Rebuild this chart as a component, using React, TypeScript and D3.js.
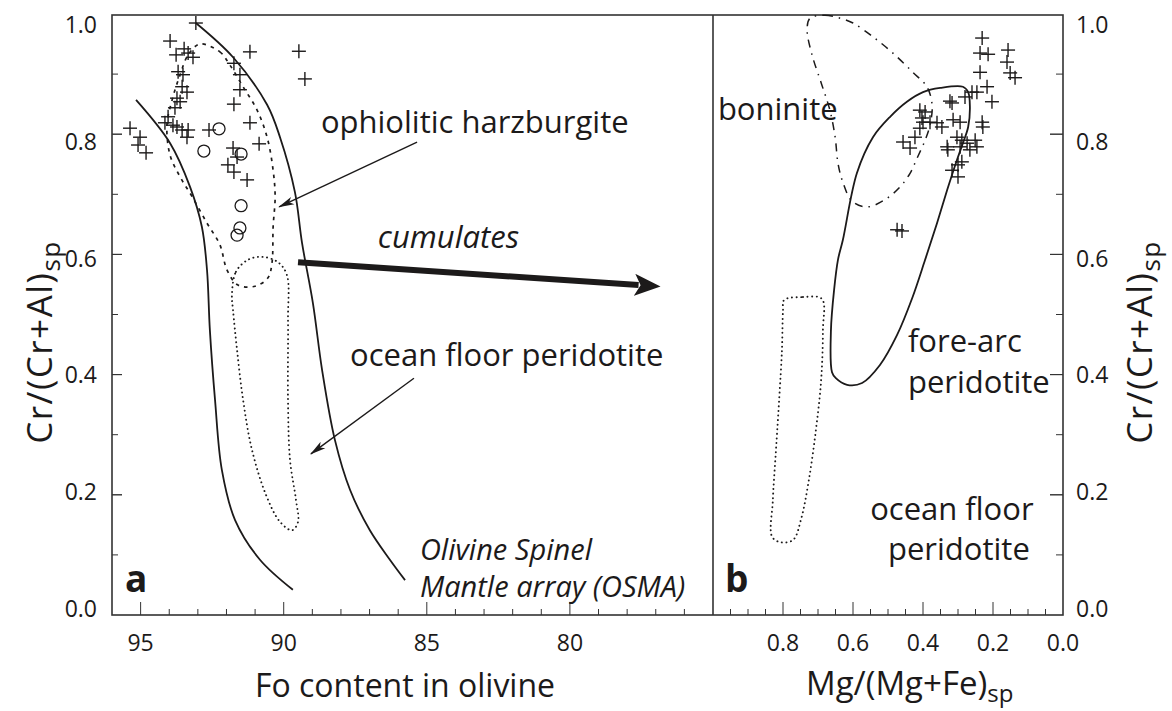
import React from "react";
import * as d3 from "d3";

// ---------- DATA ----------
// Panel a: Fo content in olivine vs Cr/(Cr+Al) spinel
const aCrosses: [number, number][] = [
  [93.07, 0.985], [93.97, 0.955], [93.48, 0.942], [93.76, 0.932], [93.34, 0.935],
  [93.17, 0.928], [91.18, 0.937], [89.47, 0.938], [89.26, 0.892], [91.74, 0.918],
  [91.53, 0.899], [91.53, 0.874], [91.74, 0.85], [93.69, 0.904], [93.52, 0.899],
  [93.55, 0.879], [93.38, 0.87], [93.73, 0.86], [93.62, 0.854], [93.8, 0.844],
  [94.04, 0.829], [94.15, 0.819], [93.87, 0.815], [93.73, 0.812], [93.55, 0.807],
  [93.34, 0.807], [93.38, 0.795], [95.37, 0.81], [95.02, 0.795], [95.09, 0.782],
  [94.81, 0.769], [92.61, 0.807], [91.18, 0.819], [90.86, 0.784], [91.77, 0.777],
  [91.63, 0.762], [91.95, 0.749], [91.74, 0.737], [91.28, 0.724],
];
const aCircles: [number, number][] = [
  [92.26, 0.809], [92.79, 0.772], [91.49, 0.767], [91.49, 0.681], [91.53, 0.644], [91.63, 0.632],
];
const osmaRight: [number, number][] = [
  [93.07, 0.985], [91.77, 0.928], [90.58, 0.849], [90.13, 0.795], [89.61, 0.704],
  [89.36, 0.619], [88.98, 0.519], [88.66, 0.408], [88.21, 0.291], [87.68, 0.208],
  [86.99, 0.141], [86.29, 0.092], [85.76, 0.058],
];
const osmaLeft: [number, number][] = [
  [95.16, 0.857], [93.97, 0.785], [93.27, 0.712], [92.86, 0.646], [92.68, 0.574],
  [92.58, 0.474], [92.4, 0.358], [92.16, 0.241], [91.7, 0.158], [90.83, 0.092], [89.68, 0.042],
];
const harzField: [number, number][] = [
  [92.93, 0.95], [92.23, 0.937], [91.88, 0.915], [91.42, 0.879], [90.93, 0.84],
  [90.58, 0.795], [90.37, 0.74], [90.3, 0.696], [90.37, 0.646], [90.41, 0.586],
  [90.55, 0.561], [91.0, 0.547], [91.6, 0.549], [91.98, 0.574], [92.23, 0.616],
  [92.68, 0.652], [93.2, 0.696], [93.62, 0.729], [93.97, 0.765], [94.08, 0.815],
  [93.9, 0.857], [93.62, 0.899], [93.34, 0.932],
];
const oceanFieldA: [number, number][] = [
  [91.81, 0.532], [91.67, 0.571], [91.25, 0.591], [90.76, 0.596], [90.2, 0.587],
  [89.89, 0.566], [89.85, 0.491], [89.85, 0.358], [89.78, 0.258], [89.57, 0.191],
  [89.5, 0.155], [89.71, 0.141], [90.13, 0.155], [90.62, 0.2], [91.11, 0.275],
  [91.42, 0.358], [91.63, 0.441], [91.77, 0.507],
];
// arrows [from, to]
const arrowHarz: [number, number][] = [[85.34, 0.787], [90.16, 0.679]];
const arrowOcean: [number, number][] = [[85.45, 0.394], [89.05, 0.268]];
const arrowCumulates: [number, number][] = [[89.5, 0.587], [77.6, 0.549]];

// Panel b: Mg/(Mg+Fe) spinel vs Cr/(Cr+Al) spinel
const bCrosses: [number, number][] = [
  [0.231, 0.96], [0.237, 0.935], [0.214, 0.933], [0.157, 0.94], [0.16, 0.92],
  [0.237, 0.903], [0.151, 0.902], [0.137, 0.894], [0.217, 0.879], [0.26, 0.87],
  [0.246, 0.87], [0.203, 0.854], [0.28, 0.862], [0.323, 0.855], [0.317, 0.852],
  [0.409, 0.84], [0.394, 0.837], [0.403, 0.827], [0.4, 0.82], [0.38, 0.82],
  [0.36, 0.819], [0.346, 0.812], [0.409, 0.81], [0.314, 0.824], [0.294, 0.82],
  [0.231, 0.82], [0.229, 0.812], [0.423, 0.795], [0.457, 0.787], [0.437, 0.777],
  [0.303, 0.795], [0.289, 0.79], [0.294, 0.779], [0.331, 0.779], [0.329, 0.774],
  [0.274, 0.785], [0.251, 0.79], [0.246, 0.779], [0.266, 0.774], [0.289, 0.754],
  [0.3, 0.749], [0.317, 0.74], [0.3, 0.729], [0.474, 0.641], [0.46, 0.639],
];
const boniniteField: [number, number][] = [
  [0.723, 0.993], [0.68, 0.998], [0.637, 0.993], [0.6, 0.985], [0.543, 0.962],
  [0.486, 0.935], [0.429, 0.903], [0.389, 0.879], [0.374, 0.849], [0.38, 0.815],
  [0.394, 0.79], [0.417, 0.76], [0.437, 0.735], [0.466, 0.712], [0.509, 0.691],
  [0.56, 0.679], [0.603, 0.689], [0.629, 0.72], [0.643, 0.752], [0.651, 0.795],
  [0.666, 0.84], [0.689, 0.882], [0.717, 0.932], [0.731, 0.973],
];
const foreArcField: [number, number][] = [
  [0.66, 0.404], [0.663, 0.474], [0.654, 0.541], [0.643, 0.591], [0.629, 0.624],
  [0.589, 0.735], [0.543, 0.795], [0.494, 0.829], [0.446, 0.854], [0.4, 0.87],
  [0.351, 0.877], [0.286, 0.879], [0.271, 0.87], [0.266, 0.845], [0.271, 0.812],
  [0.286, 0.785], [0.303, 0.757], [0.331, 0.707], [0.36, 0.652], [0.394, 0.591],
  [0.431, 0.527], [0.474, 0.466], [0.523, 0.416], [0.574, 0.386], [0.617, 0.383],
  [0.649, 0.394],
];
const oceanFieldB: [number, number][] = [
  [0.797, 0.524], [0.743, 0.529], [0.689, 0.526], [0.686, 0.474], [0.691, 0.391],
  [0.706, 0.308], [0.726, 0.225], [0.749, 0.158], [0.771, 0.125], [0.806, 0.121],
  [0.831, 0.13], [0.829, 0.191], [0.82, 0.275], [0.811, 0.358], [0.803, 0.441], [0.8, 0.507],
];

const yTicks = [0, 0.2, 0.4, 0.6, 0.8, 1.0];
const aTickLabels = [95, 90, 85, 80];
const bTickLabels = [0.8, 0.6, 0.4, 0.2, 0.0];

// ---------- LAYOUT ----------
const W = 1172, H = 711;
const xA = d3.scaleLinear().domain([96, 75]).range([112, 713]);
const xB = d3.scaleLinear().domain([1, 0]).range([713, 1063]);
const y = d3.scaleLinear().domain([0, 1]).range([615, 14]);
const yLab = d3.scaleLinear().domain([0, 1]).range([608, 24]);
const FONT = "'Open Sans', 'Noto Sans', sans-serif";
const INK = "#1c1a1a";

type Sc = d3.ScaleLinear<number, number>;
const openLine = (xs: Sc) => d3.line<[number, number]>().x(d => xs(d[0])).y(d => y(d[1])).curve(d3.curveCatmullRom.alpha(0.5));
const closedLine = (xs: Sc) => d3.line<[number, number]>().x(d => xs(d[0])).y(d => y(d[1])).curve(d3.curveCatmullRomClosed.alpha(0.5));

const Cross = ({ cx, cy }: { cx: number; cy: number }) => (
  <g stroke={INK} strokeWidth={1.4}>
    <line x1={cx - 7} x2={cx + 7} y1={cy} y2={cy} />
    <line x1={cx} x2={cx} y1={cy - 7} y2={cy + 7} />
  </g>
);

export default function App() {
  const minorA = d3.range(95, 75, -1);
  const minorB = d3.range(0.95, 0.0, -0.05).map(v => +v.toFixed(2));
  const yMinor = d3.range(0.1, 1.0, 0.1).map(v => +v.toFixed(1));

  const arrowLine = (xs: Sc, a: [number, number][]) => ({
    x1: xs(a[0][0]), y1: y(a[0][1]), x2: xs(a[1][0]), y2: y(a[1][1]),
  });
  const ah = arrowLine(xA, arrowHarz);
  const ao = arrowLine(xA, arrowOcean);
  const ac = arrowLine(xA, arrowCumulates);

  return (
    <svg width={W} height={H} style={{ position: "absolute", left: 0, top: 0, background: "#fff" }}
      fontFamily={FONT} fill={INK}>
      <defs>
        <marker id="headThin" viewBox="0 0 16 10" refX="15" refY="5" markerWidth="16" markerHeight="10"
          markerUnits="userSpaceOnUse" orient="auto">
          <path d="M0,1 L16,5 L0,9 L4,5 Z" fill={INK} />
        </marker>
        <marker id="headThick" viewBox="0 0 26 22" refX="4" refY="11" markerWidth="26" markerHeight="22"
          markerUnits="userSpaceOnUse" orient="auto">
          <path d="M0,0 L26,11 L0,22 L6,11 Z" fill={INK} />
        </marker>
      </defs>

      {/* frames */}
      <rect x={112} y={15} width={1063 - 112} height={615 - 15} fill="none" stroke="#333" strokeWidth={1.6} />
      <line x1={713} x2={713} y1={15} y2={615} stroke="#333" strokeWidth={1.6} />

      {/* y ticks left & right (inward) */}
      {yTicks.concat(yMinor).filter(v => v > 0 && v < 1).map(v => {
        const major = Math.abs((v * 10) % 2) < 0.01;
        return (
          <g key={"yt" + v} stroke="#333" strokeWidth={1}>
            <line x1={112} x2={112 + (major ? 10 : 6)} y1={y(v)} y2={y(v)} />
            <line x1={1063} x2={1063 - (major ? 13 : 7)} y1={y(v)} y2={y(v)} />
          </g>
        );
      })}
      {/* x ticks panel a */}
      {minorA.map(v => (
        <line key={"xa" + v} x1={xA(v)} x2={xA(v)} y1={615} y2={615 - (v % 5 === 0 ? 13 : 6)} stroke="#333" strokeWidth={1} />
      ))}
      {/* x ticks panel b */}
      {minorB.map(v => (
        <line key={"xb" + v} x1={xB(v)} x2={xB(v)} y1={615} y2={615 - (Math.abs((v * 100) % 20) < 0.5 ? 13 : 6)} stroke="#333" strokeWidth={1} />
      ))}

      {/* tick labels */}
      {yTicks.map(v => (
        <text key={"yl" + v} x={97} y={yLab(v)} textAnchor="end" dominantBaseline="central" fontSize={23}>{v.toFixed(1)}</text>
      ))}
      {yTicks.map(v => (
        <text key={"yr" + v} x={1076} y={yLab(v)} textAnchor="start" dominantBaseline="central" fontSize={23}>{v.toFixed(1)}</text>
      ))}
      {aTickLabels.map(v => (
        <text key={"al" + v} x={xA(v)} y={651} textAnchor="middle" fontSize={23}>{v}</text>
      ))}
      {bTickLabels.map(v => (
        <text key={"bl" + v} x={xB(v)} y={651} textAnchor="middle" fontSize={23}>{v.toFixed(1)}</text>
      ))}

      {/* axis titles */}
      <text x={405} y={697} textAnchor="middle" fontSize={32}>Fo content in olivine</text>
      <text x={806} y={695} textAnchor="start" fontSize={33}>Mg/(Mg+Fe)<tspan fontSize={24} dy={7}>sp</tspan></text>
      <text transform="translate(52,342) rotate(-90)" textAnchor="middle" fontSize={35} letterSpacing={1.5}>Cr/(Cr+Al)<tspan fontSize={26} dy={8}>sp</tspan></text>
      <text transform="translate(1152,342) rotate(-90)" textAnchor="middle" fontSize={35} letterSpacing={1.5}>Cr/(Cr+Al)<tspan fontSize={26} dy={8}>sp</tspan></text>

      {/* panel a fields */}
      <path d={openLine(xA)(osmaRight) || ""} fill="none" stroke={INK} strokeWidth={1.8} />
      <path d={openLine(xA)(osmaLeft) || ""} fill="none" stroke={INK} strokeWidth={1.8} />
      <path d={closedLine(xA)(harzField) || ""} fill="none" stroke={INK} strokeWidth={1.7} strokeDasharray="3.5,5" />
      <path d={closedLine(xA)(oceanFieldA) || ""} fill="none" stroke={INK} strokeWidth={1.9} strokeDasharray="0.1,4.5" strokeLinecap="round" />

      {aCrosses.map((d, i) => <Cross key={"ac" + i} cx={xA(d[0])} cy={y(d[1])} />)}
      {aCircles.map((d, i) => (
        <circle key={"ao" + i} cx={xA(d[0])} cy={y(d[1])} r={6} fill="none" stroke={INK} strokeWidth={1.3} />
      ))}

      {/* arrows */}
      <line {...ah} stroke={INK} strokeWidth={1.4} markerEnd="url(#headThin)" />
      <line {...ao} stroke={INK} strokeWidth={1.4} markerEnd="url(#headThin)" />
      <line {...ac} stroke={INK} strokeWidth={6} markerEnd="url(#headThick)" />

      {/* panel a labels */}
      <text x={xA(88.7)} y={y(0.802)} fontSize={31}>ophiolitic harzburgite</text>
      <text x={xA(86.71)} y={y(0.611)} fontSize={31} fontStyle="italic">cumulates</text>
      <text x={xA(87.68)} y={y(0.414)} fontSize={31}>ocean floor peridotite</text>
      <text x={xA(85.24)} y={y(0.0915)} fontSize={29} fontStyle="italic">Olivine Spinel</text>
      <text x={xA(85.24)} y={y(0.03)} fontSize={29} fontStyle="italic">Mantle array (OSMA)</text>
      <text x={xA(95.55)} y={y(0.038)} fontSize={37} fontWeight="bold">a</text>

      {/* panel b fields */}
      <path d={closedLine(xB)(boniniteField) || ""} fill="none" stroke={INK} strokeWidth={1.5} strokeDasharray="8,6,1.5,6" />
      <path d={closedLine(xB)(foreArcField) || ""} fill="none" stroke={INK} strokeWidth={1.8} />
      <path d={closedLine(xB)(oceanFieldB) || ""} fill="none" stroke={INK} strokeWidth={1.9} strokeDasharray="0.1,4.5" strokeLinecap="round" />
      {bCrosses.map((d, i) => <Cross key={"bc" + i} cx={xB(d[0])} cy={y(d[1])} />)}

      {/* panel b labels */}
      <text x={xB(0.986)} y={y(0.824)} fontSize={31}>boninite</text>
      <text x={xB(0.443)} y={y(0.438)} fontSize={31}>fore-arc</text>
      <text x={xB(0.443)} y={y(0.369)} fontSize={31}>peridotite</text>
      <text x={xB(0.551)} y={y(0.158)} fontSize={31}>ocean floor</text>
      <text x={xB(0.5)} y={y(0.0915)} fontSize={31}>peridotite</text>
      <text x={xB(0.966)} y={y(0.038)} fontSize={37} fontWeight="bold">b</text>
    </svg>
  );
}
